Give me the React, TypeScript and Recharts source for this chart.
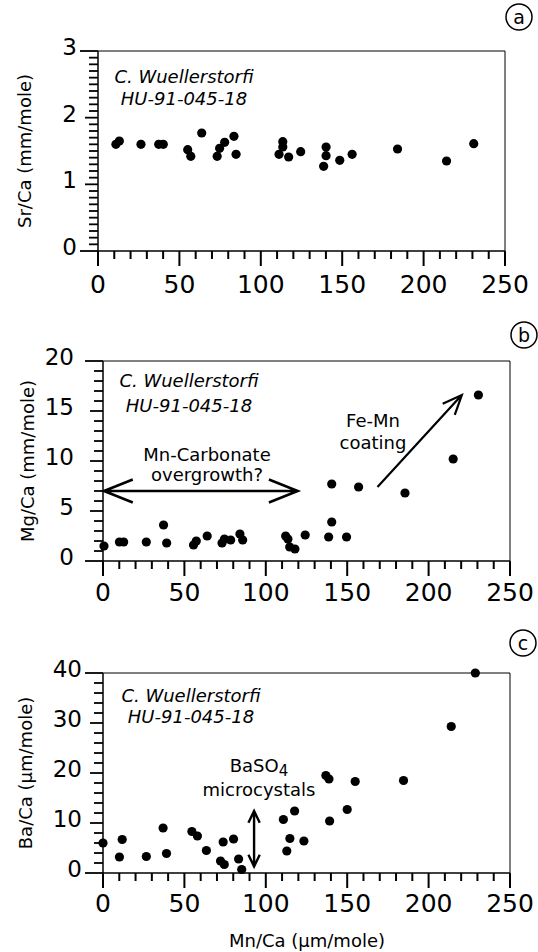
import React from "react";
import { ScatterChart, Scatter, XAxis, YAxis, ReferenceLine, Customized } from "recharts";

const FONT = "'DejaVu Sans', 'Liberation Sans', Arial, sans-serif";

// (a) Sr/Ca vs Mn/Ca
const mnA = [11, 13.1, 26.4, 37.3, 40.1, 55.1, 57, 63.7, 73.2, 74.7, 77.8, 83.5, 84.8, 111.2, 113.5, 113.5, 117.1, 124.5, 138.6, 140.1, 140.1, 148.5, 156.1, 184, 214.1, 230.8];
const srA = [1.6, 1.65, 1.6, 1.6, 1.6, 1.52, 1.42, 1.77, 1.42, 1.54, 1.63, 1.72, 1.45, 1.45, 1.64, 1.56, 1.41, 1.49, 1.27, 1.56, 1.43, 1.36, 1.45, 1.53, 1.35, 1.61];

// (b) Mg/Ca vs Mn/Ca
const mnB = [0.6, 10.1, 12.7, 26.6, 37.2, 39.1, 55.6, 57.3, 64, 73.1, 74.6, 78.4, 84.1, 85.8, 112.2, 113.6, 114.7, 117.9, 124.2, 138.6, 140.5, 140.5, 149.6, 157, 185.5, 215.1, 230.6];
const mgB = [1.5, 1.9, 1.9, 1.9, 3.6, 1.8, 1.6, 2.0, 2.5, 1.8, 2.2, 2.1, 2.7, 2.1, 2.5, 2.2, 1.4, 1.2, 2.6, 2.4, 7.7, 3.9, 2.4, 7.4, 6.8, 10.2, 16.6];

// (c) Ba/Ca vs Mn/Ca
const mnC = [0, 10.1, 11.8, 26.6, 36.9, 39, 54.6, 58, 63.5, 72.2, 74.5, 73.8, 80.2, 83.3, 85.2, 110.8, 112.9, 114.8, 117.7, 123.4, 136.9, 138.8, 139.2, 150, 154.9, 184.6, 213.9, 228.7];
const baC = [6.0, 3.2, 6.7, 3.3, 9.0, 3.9, 8.3, 7.4, 4.5, 2.4, 1.7, 6.2, 6.8, 2.8, 0.7, 10.7, 4.4, 6.9, 12.4, 6.4, 19.5, 18.8, 10.4, 12.7, 18.3, 18.5, 29.3, 40];

const xMajor = [0, 50, 100, 150, 200, 250];
const yMajorA = [0, 1, 2, 3];
const yMajorB = [0, 5, 10, 15, 20];
const yMajorC = [0, 10, 20, 30, 40];

const range = (a: number, b: number, s: number) => {
  const out: number[] = [];
  for (let i = 0; a + i * s <= b + 1e-9; i++) out.push(+(a + i * s).toFixed(4));
  return out;
};

const isMajor = (list: number[], v: number) => list.some((m) => Math.abs(m - v) < 1e-6);

function XLabel(props: any) {
  const { x, y, payload, dy } = props;
  if (!isMajor(xMajor, payload.value)) return <g />;
  return (
    <text x={x} y={y + dy} textAnchor="middle" fontSize={25} fontFamily={FONT} fill="#000">
      {payload.value}
    </text>
  );
}

function YLabel(props: any) {
  const { x, y, payload, majors, gap } = props;
  if (!isMajor(majors, payload.value)) return <g />;
  return (
    <text x={x - gap} y={y + 4} textAnchor="end" fontSize={23} fontFamily={FONT} fill="#000">
      {payload.value}
    </text>
  );
}

// minor/major tick marks hanging outside the frame
function TickMarks({ L, R, T, B, yMax, yStep, majors }: any) {
  const xs = range(0, 250, 10);
  const ys = range(0, yMax, yStep);
  return (
    <g stroke="#000" fill="none">
      {xs.map((v) => {
        const px = L + (v / 250) * (R - L);
        const len = isMajor(xMajor, v) ? 15 : 8;
        return <line key={`x${v}`} x1={px} x2={px} y1={B} y2={B + len} strokeWidth={2} />;
      })}
      {ys.map((v) => {
        const py = B - (v / yMax) * (B - T);
        const end = v === majors[0] || v === majors[majors.length - 1];
        const len = end ? 18 : isMajor(majors, v) ? 13 : 9;
        return <line key={`y${v}`} x1={L - len} x2={L} y1={py} y2={py} strokeWidth={1.8} />;
      })}
    </g>
  );
}

function arrowShape(both: boolean, len: number, spread: number, sw: number) {
  return (p: any) => {
    const { x1, y1, x2, y2 } = p;
    const ang = Math.atan2(y2 - y1, x2 - x1);
    const head = (x: number, y: number, a: number) => {
      const b1 = a + Math.PI - spread;
      const b2 = a + Math.PI + spread;
      return `M${x + len * Math.cos(b1)},${y + len * Math.sin(b1)} L${x},${y} L${x + len * Math.cos(b2)},${y + len * Math.sin(b2)}`;
    };
    let d = `M${x1},${y1} L${x2},${y2} ` + head(x2, y2, ang);
    if (both) d += " " + head(x1, y1, ang + Math.PI);
    return <path d={d} fill="none" stroke="#000" strokeWidth={sw} />;
  };
}

const dot = (p: any) => <circle cx={p.cx} cy={p.cy} r={4.6} fill="#000" />;

function Letter({ cx, cy, ch }: { cx: number; cy: number; ch: string }) {
  return (
    <g>
      <circle cx={cx} cy={cy} r={13} fill="none" stroke="#000" strokeWidth={1.5} />
      <text x={cx} y={cy + 6.5} textAnchor="middle" fontSize={19} fontFamily={FONT} fill="#000">
        {ch}
      </text>
    </g>
  );
}

function Species({ x, y1, y2 }: { x: number; y1: number; y2: number }) {
  return (
    <g fontFamily={FONT} fontStyle="italic" fontSize={18} fill="#000" textAnchor="middle">
      <text x={x} y={y1}>C. Wuellerstorfi</text>
      <text x={x} y={y2}>HU-91-045-18</text>
    </g>
  );
}

function YTitle({ x, y, label }: { x: number; y: number; label: string }) {
  return (
    <text
      x={x}
      y={y}
      transform={`rotate(-90 ${x} ${y})`}
      textAnchor="middle"
      fontSize={18}
      fontFamily={FONT}
      fill="#000"
    >
      {label}
    </text>
  );
}

const W = 538;
const AXIS_W = 60;
const AXIS_H = 40;

export default function App() {
  const ptsA = mnA.map((m, i) => ({ mn: m, v: srA[i] }));
  const ptsB = mnB.map((m, i) => ({ mn: m, v: mgB[i] }));
  const ptsC = mnC.map((m, i) => ({ mn: m, v: baC[i] }));
  const xTicks = range(0, 250, 10);

  const xAxis = (dy: number) => (
    <XAxis
      type="number"
      dataKey="mn"
      domain={[0, 250]}
      ticks={xTicks}
      interval={0}
      height={AXIS_H}
      tickSize={0}
      tickMargin={0}
      tickLine={false}
      axisLine={{ stroke: "#000", strokeWidth: 1.5 }}
      tick={(p: any) => <XLabel {...p} dy={dy} />}
    />
  );
  const yAxis = (yMax: number, step: number, majors: number[], gap: number) => (
    <YAxis
      type="number"
      dataKey="v"
      domain={[0, yMax]}
      ticks={range(0, yMax, step)}
      interval={0}
      width={AXIS_W}
      tickSize={0}
      tickMargin={0}
      tickLine={false}
      axisLine={{ stroke: "#000", strokeWidth: 1.5 }}
      tick={(p: any) => <YLabel {...p} majors={majors} gap={gap} />}
    />
  );

  return (
    <div style={{ position: "absolute", left: 0, top: 0, width: W, height: 952, background: "#fff" }}>
      {/* panel a */}
      <div style={{ position: "absolute", left: 0, top: 0 }}>
        <ScatterChart width={W} height={305} margin={{ top: 51, right: 33, bottom: 54 - AXIS_H, left: 98 - AXIS_W }}>
          {xAxis(42)}
          {yAxis(3, 0.1, yMajorA, 21)}
          <ReferenceLine y={3} stroke="#000" strokeWidth={1} />
          <ReferenceLine x={250} stroke="#000" strokeWidth={1} />
          <Scatter data={ptsA} shape={dot} isAnimationActive={false} />
          <Customized
            component={
              <g>
                <TickMarks L={98} R={505} T={51} B={251} yMax={3} yStep={0.1} majors={yMajorA} />
                <Species x={184} y1={83} y2={105} />
                <Letter cx={519} cy={17} ch="a" />
                <YTitle x={31} y={151} label="Sr/Ca (mm/mole)" />
              </g>
            }
          />
        </ScatterChart>
      </div>

      {/* panel b */}
      <div style={{ position: "absolute", left: 0, top: 300 }}>
        <ScatterChart width={W} height={320} margin={{ top: 61, right: 28, bottom: 59 - AXIS_H, left: 103 - AXIS_W }}>
          {xAxis(40)}
          {yAxis(20, 1, yMajorB, 29)}
          <ReferenceLine y={20} stroke="#000" strokeWidth={1} />
          <ReferenceLine x={250} stroke="#000" strokeWidth={1} />
          <ReferenceLine
            segment={[{ x: 0.6, y: 7 }, { x: 119.6, y: 7 }]}
            shape={arrowShape(true, 31, 0.38, 2.6)}
          />
          <ReferenceLine
            segment={[{ x: 168.6, y: 7.4 }, { x: 220.4, y: 16.6 }]}
            shape={arrowShape(false, 21, 0.4, 2.2)}
          />
          <Scatter data={ptsB} shape={dot} isAnimationActive={false} />
          <Customized
            component={
              <g>
                <TickMarks L={103} R={510} T={61} B={261} yMax={20} yStep={1} majors={yMajorB} />
                <Species x={189} y1={87} y2={112} />
                <Letter cx={524} cy={35} ch="b" />
                <YTitle x={34} y={161} label="Mg/Ca (mm/mole)" />
                <g fontFamily={FONT} fontSize={18} fill="#000" textAnchor="middle">
                  <text x={207} y={161}>Mn-Carbonate</text>
                  <text x={207} y={181}>overgrowth?</text>
                  <text x={373} y={127}>Fe-Mn</text>
                  <text x={373} y={149}>coating</text>
                </g>
              </g>
            }
          />
        </ScatterChart>
      </div>

      {/* panel c */}
      <div style={{ position: "absolute", left: 0, top: 610 }}>
        <ScatterChart width={W} height={342} margin={{ top: 63, right: 28, bottom: 79 - AXIS_H, left: 103 - AXIS_W }}>
          {xAxis(39)}
          {yAxis(40, 2, yMajorC, 21)}
          <ReferenceLine y={40} stroke="#000" strokeWidth={1.2} />
          <ReferenceLine x={250} stroke="#000" strokeWidth={1} />
          <ReferenceLine
            segment={[{ x: 92.8, y: 1.3 }, { x: 92.8, y: 12.4 }]}
            shape={arrowShape(true, 13, 0.45, 2.4)}
          />
          <Scatter data={ptsC} shape={dot} isAnimationActive={false} />
          <Customized
            component={
              <g>
                <TickMarks L={103} R={510} T={63} B={263} yMax={40} yStep={2} majors={yMajorC} />
                <Species x={191} y1={92} y2={113} />
                <Letter cx={523} cy={33} ch="c" />
                <YTitle x={32} y={163} label="Ba/Ca (µm/mole)" />
                <g fontFamily={FONT} fontSize={18} fill="#000" textAnchor="middle">
                  <text x={259} y={162}>
                    BaSO<tspan fontSize={15} dy={4}>4</tspan>
                  </text>
                  <text x={259} y={186}>microcystals</text>
                </g>
                <text x={307} y={337} textAnchor="middle" fontSize={18} fontFamily={FONT} fill="#000">
                  Mn/Ca (µm/mole)
                </text>
              </g>
            }
          />
        </ScatterChart>
      </div>
    </div>
  );
}
